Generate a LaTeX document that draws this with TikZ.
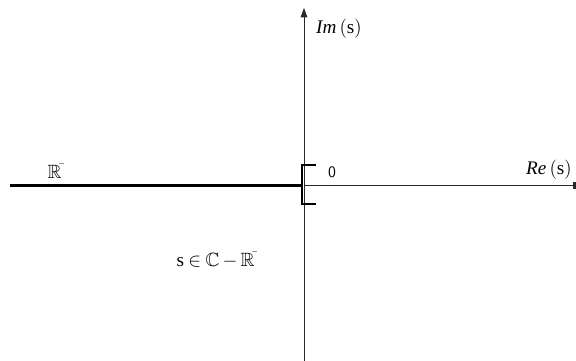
\documentclass[tikz,border=0pt]{standalone}
\usepackage{amssymb}
\usepackage{fontspec}
\setmainfont{Liberation Serif}
\usetikzlibrary{arrows.meta, positioning, calc}
\definecolor{axisgray}{RGB}{40, 40, 40}

\begin{document}
\begin{tikzpicture}[x=0.75pt, y=0.75pt,
    axisline/.style={line width=0.6pt, axisgray},
    cutline/.style={line width=2.2pt, black},
    lbl/.style={inner sep=1pt, font=\Large}]
    \useasboundingbox (0,0) rectangle (576,361);

    % Axes
    \coordinate (origin) at (304,175.5);
    \coordinate (ybot) at (304,0);
    \coordinate (ytop) at (304,353);
    \coordinate (xright) at (576,175.5);
    \draw[axisline, -{Triangle[length=7pt, width=5pt]}] (ybot) -- (ytop);
    \draw[axisline, -{Rectangle[length=2pt, width=5pt]}] (origin) -- (xright);

    % Negative real half-line
    \coordinate (xleft) at (10,175.5);
    \coordinate (cutend) at (302,175.5);
    \draw[cutline] (xleft) -- (cutend);

    % Bracket at zero
    \coordinate (brtop) at (302,196);
    \coordinate (brbot) at (302,157);
    \draw[cutline, line cap=butt] ($(brtop)+(14,0)$) -- (brtop) -- (brbot) -- ++(14,0);

    % Labels
    \node[lbl] (imlabel) at (339,332) {$\mathit{Im}\,(\mathrm{s})$};
    \node[lbl] (relabel) at (549,191) {$\mathit{Re}\,(\mathrm{s})$};
    \node[lbl, font=\large\sffamily] (zero) at (332,189) {0};
    \node[lbl] (rminus) at (55,190) {$\mathbb{R}^{\bar{}}$};
    \node[lbl] (domain) at (216,101) {$\mathrm{s}\mathbin{\in}\mathbb{C}\,{-}\,\mathbb{R}^{\bar{}}$};
\end{tikzpicture}
\end{document}
